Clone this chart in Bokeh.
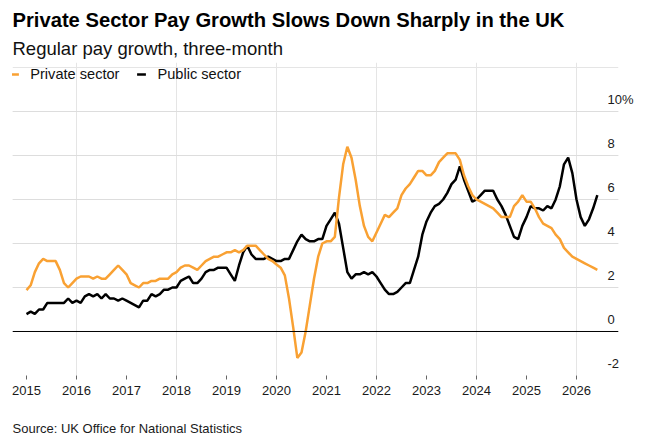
import numpy as np
from bokeh.plotting import figure
from bokeh.models import (Range1d, LinearAxis, FixedTicker, Grid, Span, Legend,
                          LegendItem, Title, ColumnDataSource)
from bokeh.embed import file_html
from bokeh.resources import INLINE

# ---- data (monthly, Jan 2015 onwards) ----
start_year = 2015
private_sector = [
    1.88, 2.1, 2.7, 3.1, 3.3, 3.2, 3.2, 3.2, 2.8, 2.2, 2.0, 2.2,
    2.4, 2.5, 2.5, 2.5, 2.4, 2.5, 2.4, 2.4, 2.6, 2.8, 3.0, 2.8,
    2.6, 2.2, 2.1, 2.0, 2.2, 2.2, 2.3, 2.3, 2.4, 2.4, 2.4, 2.6,
    2.7, 2.9, 3.0, 3.0, 2.9, 2.8, 3.0, 3.2, 3.3, 3.4, 3.4, 3.5,
    3.6, 3.6, 3.7, 3.6, 3.7, 3.9, 3.9, 3.9, 3.7, 3.5, 3.3, 3.2,
    3.05, 2.9, 2.55, 1.5, 0.2, -1.2, -0.95, 0.0, 1.2, 2.4, 3.4, 4.0,
    4.1, 4.1, 4.3, 6.1, 7.6, 8.4, 7.9, 6.9, 5.7, 4.8, 4.3, 4.1,
    4.5, 4.9, 5.3, 5.2, 5.4, 5.6, 6.2, 6.5, 6.7, 7.0, 7.3, 7.3,
    7.1, 7.1, 7.3, 7.7, 7.9, 8.1, 8.1, 8.1, 7.8, 7.1, 6.6, 6.2,
    6.0, 5.9, 5.8, 5.7, 5.6, 5.4, 5.2, 5.2, 5.2, 5.7, 5.9, 6.2,
    5.9, 5.9, 5.6, 5.2, 4.9, 4.8, 4.7, 4.4, 4.2, 3.8, 3.6, 3.4,
    3.3, 3.2, 3.1, 3.0, 2.9, 2.8,
]
public_sector = [
    0.79, 0.9, 0.8, 1.0, 1.0, 1.3, 1.3, 1.3, 1.3, 1.3, 1.5, 1.3,
    1.4, 1.3, 1.6, 1.7, 1.6, 1.7, 1.5, 1.7, 1.5, 1.5, 1.4, 1.5,
    1.4, 1.3, 1.2, 1.1, 1.4, 1.4, 1.7, 1.6, 1.7, 1.9, 1.9, 2.0,
    2.0, 2.3, 2.4, 2.5, 2.2, 2.2, 2.4, 2.7, 2.8, 2.8, 2.9, 2.9,
    2.9, 2.6, 2.3, 3.0, 3.6, 3.9, 3.5, 3.3, 3.3, 3.3, 3.4, 3.3,
    3.2, 3.2, 3.3, 3.3, 3.7, 4.1, 4.4, 4.2, 4.1, 4.1, 4.2, 4.2,
    4.8, 5.1, 5.4, 4.9, 3.8, 2.7, 2.4, 2.6, 2.6, 2.7, 2.6, 2.7,
    2.5, 2.2, 1.9, 1.7, 1.7, 1.8, 2.0, 2.2, 2.2, 2.8, 3.4, 4.4,
    5.0, 5.4, 5.7, 5.8, 6.0, 6.3, 6.7, 6.9, 7.5, 6.9, 6.4, 5.9,
    6.0, 6.2, 6.4, 6.4, 6.4, 6.0, 5.7, 5.3, 4.8, 4.3, 4.2, 4.8,
    5.2, 5.7, 5.6, 5.6, 5.5, 5.7, 5.6, 6.0, 6.6, 7.6, 7.9, 7.2,
    6.0, 5.2, 4.8, 5.1, 5.6, 6.2,
]
year_ticks = list(range(2015, 2027))
y_ticks = [-2, 0, 2, 4, 6, 8, 10]
y_label_overrides = {10: "10%", -2: "-2"}
source_note = "Source: UK Office for National Statistics"

ORANGE = "#f9a133"
FONT = "Liberation Sans"

n = len(private_sector)
months = [start_year + i / 12 for i in range(n)]
src = ColumnDataSource(dict(x=months, private=private_sector, public=public_sector))

Y_TOP = 12.227
LABEL_SHIFT = 0.545

p = figure(width=647, height=442, output_backend="svg", toolbar_location=None,
           title=None,
           x_range=Range1d(2014.72, 2026.84), y_range=Range1d(-2, Y_TOP),
           x_axis_location=None, y_axis_location=None,
           min_border_left=12, min_border_right=29, min_border_top=62,
           min_border_bottom=67)
p.outline_line_color = None
p.background_fill_color = "white"
p.border_fill_color = "white"

# grid lines
p.add_layout(Grid(dimension=1, ticker=FixedTicker(ticks=y_ticks),
                  grid_line_color="#dddddd", grid_line_width=1))
p.add_layout(Span(location=0, dimension="width", line_color="black", line_width=1))

# x axis
xaxis = LinearAxis(ticker=FixedTicker(ticks=year_ticks),
                   axis_line_color=None,
                   major_tick_line_color="#666666", major_tick_in=0, major_tick_out=4,
                   minor_tick_line_color=None,
                   major_label_standoff=6,
                   major_label_text_font=FONT, major_label_text_font_size="13px",
                   major_label_text_color="#1a1a1a")
p.add_layout(xaxis, "below")

# source note below the axis (leading blank line pushes it down)
p.add_layout(Title(text="\n" + source_note, text_font=FONT, text_font_size="13px",
                   text_font_style="normal", text_color="#1a1a1a",
                   align="left", standoff=12), "below")

# right y axis (labels sit just above grid lines)
p.extra_y_ranges = {"lab": Range1d(-2 - LABEL_SHIFT, Y_TOP - LABEL_SHIFT)}
yaxis = LinearAxis(y_range_name="lab", ticker=FixedTicker(ticks=y_ticks),
                   major_label_overrides=y_label_overrides,
                   axis_line_color=None, major_tick_line_color=None,
                   minor_tick_line_color=None, major_tick_in=0, major_tick_out=0,
                   major_label_standoff=-11,
                   major_label_text_font=FONT, major_label_text_font_size="13px",
                   major_label_text_color="#1a1a1a")
p.add_layout(yaxis, "right")

# lines
p.line("x", "public", source=src, line_color="black", line_width=2.5)
p.line("x", "private", source=src, line_color=ORANGE, line_width=2.5)

# legend glyphs (hidden renderers, short dash)
lg_priv = p.scatter("x", "private", source=src, marker="dash",
                    size=9, line_color=ORANGE, line_width=2.5, visible=False)
lg_pub = p.scatter("x", "public", source=src, marker="dash",
                   size=9, line_color="black", line_width=2.5, visible=False)
legend = Legend(items=[LegendItem(label="Private sector", renderers=[lg_priv]),
                       LegendItem(label="Public sector", renderers=[lg_pub])],
                location=(-8.75, 290), orientation="horizontal",
                glyph_width=22, glyph_height=22, label_height=22,
                label_standoff=5, spacing=11, padding=0, margin=0,
                border_line_color=None, background_fill_alpha=0,
                label_text_font=FONT, label_text_font_size="14.6px",
                label_text_color="#111111")
p.add_layout(legend)

# titles
p.add_layout(Title(text="Regular pay growth, three-month", text_font=FONT,
                   text_font_size="18.5px", text_font_style="normal",
                   text_color="#111111", align="left", standoff=7), "above")
p.add_layout(Title(text="Private Sector Pay Growth Slows Down Sharply in the UK",
                   text_font=FONT, text_font_size="20.2px", text_font_style="bold",
                   text_color="black", align="left", standoff=3), "above")

open("out.html", "w").write(file_html(p, INLINE))
